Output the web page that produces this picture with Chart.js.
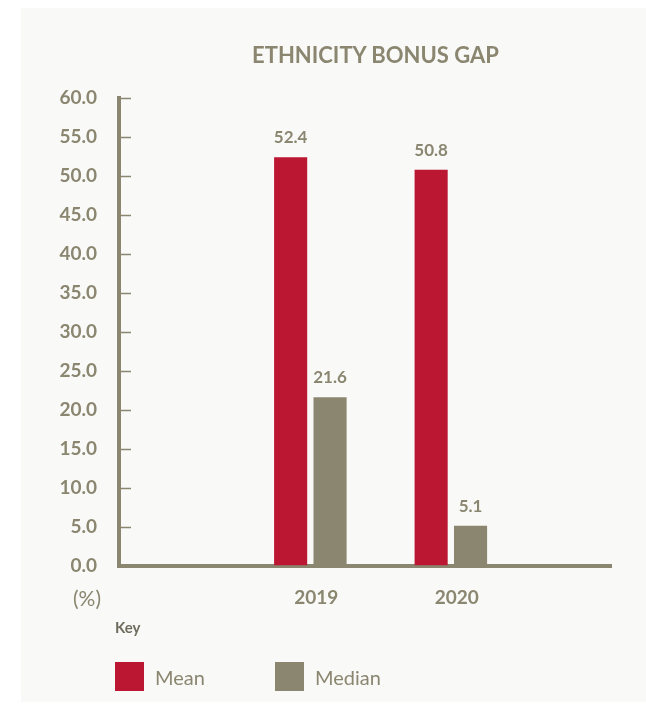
<!DOCTYPE html>
<html>
<head>
<meta charset="utf-8">
<script src="https://cdn.jsdelivr.net/npm/chart.js@4"></script>
<style>
  body { margin: 0; background: #fff; width: 646px; height: 712px; position: relative; overflow: hidden; font-family: Lato, "Open Sans", sans-serif; color: #8a8670; }
  #panel { position: absolute; left: 21px; top: 8px; width: 625px; height: 694px; background: #f9f9f7; }
  #chart { position: absolute; left: 0; top: 0; }
  .txt { position: absolute; white-space: nowrap; }
  #title { left: 0; width: 751px; top: 41px; text-align: center; font-weight: bold; font-size: 22px; }
  #unit { left: 73px; top: 585px; font-size: 21px; }
  #key { left: 115px; top: 618px; font-size: 15px; font-weight: bold; color: #706d5e; }
  .leg { position: absolute; top: 662px; height: 29px; display: flex; align-items: center; font-size: 20px; }
  .leg span { display: inline-block; width: 29px; height: 29px; margin-right: 11px; }
</style>
</head>
<body>
<div id="panel"></div>
<canvas id="chart" width="646" height="712"></canvas>
<div class="txt" id="title">ETHNICITY BONUS GAP</div>
<div class="txt" id="unit">(%)</div>
<div class="txt" id="key">Key</div>
<div id="legend"></div>
<script>
const years = [2019, 2020];
const seriesNames = ["Mean", "Median"];
const meanValues = [52.4, 50.8];
const medianValues = [21.6, 5.1];
const colors = ["#bb1632", "#8a8670"];
const yTicks = [0, 5, 10, 15, 20, 25, 30, 35, 40, 45, 50, 55, 60];

const axisColor = "#8a8670";
const font = "Lato, 'Open Sans', sans-serif";

// legend in html
const legendPos = [115, 275];
seriesNames.forEach((n, i) => {
  const d = document.createElement("div");
  d.className = "leg";
  d.style.left = legendPos[i] + "px";
  d.innerHTML = `<span style="background:${colors[i]}"></span>${n}`;
  document.getElementById("legend").appendChild(d);
});

// short ticks pointing into the chart
const innerTicks = {
  id: "innerTicks",
  afterDraw(chart) {
    const ctx = chart.ctx;
    const y = chart.scales.y;
    const left = chart.chartArea.left;
    ctx.save();
    ctx.strokeStyle = axisColor;
    ctx.lineWidth = 1.5;
    yTicks.forEach(v => {
      const py = Math.round(y.getPixelForValue(v)) + 0.5;
      ctx.beginPath();
      ctx.moveTo(left - 1, py);
      ctx.lineTo(left + 12, py);
      ctx.stroke();
    });
    ctx.restore();
  }
};

// values above bars
const valueLabels = {
  id: "valueLabels",
  afterDatasetsDraw(chart) {
    const ctx = chart.ctx;
    ctx.save();
    ctx.font = "bold 17px " + font;
    ctx.fillStyle = axisColor;
    ctx.textAlign = "center";
    ctx.textBaseline = "middle";
    chart.data.datasets.forEach((ds, i) => {
      chart.getDatasetMeta(i).data.forEach((bar, j) => {
        ctx.fillText(ds.data[j].y.toFixed(1), bar.x, bar.y - 19.5);
      });
    });
    ctx.restore();
  }
};

new Chart(document.getElementById("chart"), {
  type: "bar",
  data: {
    datasets: [
      {
        label: seriesNames[0],
        data: years.map((y, i) => ({ x: y, y: meanValues[i] })),
        backgroundColor: colors[0]
      },
      {
        label: seriesNames[1],
        data: years.map((y, i) => ({ x: y, y: medianValues[i] })),
        backgroundColor: colors[1]
      }
    ]
  },
  options: {
    responsive: false,
    animation: false,
    categoryPercentage: 0.561,
    barPercentage: 0.84,
    layout: { padding: { left: 0, right: 35, top: 98, bottom: 86.5 } },
    plugins: {
      legend: { display: false },
      tooltip: { enabled: false }
    },
    scales: {
      x: {
        type: "linear",
        min: 2017.638,
        max: 2021.14,
        offset: false,
        grid: { display: false },
        border: { display: true, width: 4, color: axisColor },
        afterBuildTicks: s => { s.ticks = years.map(v => ({ value: v })); },
        afterFit: s => { s.height = 60; },
        ticks: {
          callback: v => String(v),
          color: axisColor,
          font: { family: font, size: 19, weight: "bold" },
          padding: 13,
          labelOffset: 6,
          maxRotation: 0,
          autoSkip: false
        }
      },
      y: {
        min: 0,
        max: 60,
        grid: { display: false },
        border: { display: true, width: 4, color: axisColor },
        afterBuildTicks: s => { s.ticks = yTicks.map(v => ({ value: v })); },
        afterFit: s => { s.width = 119; },
        ticks: {
          callback: v => v.toFixed(1),
          color: axisColor,
          font: { family: font, size: 19, weight: "bold" },
          padding: 14
        }
      }
    }
  },
  plugins: [innerTicks, valueLabels]
});
</script>
</body>
</html>
